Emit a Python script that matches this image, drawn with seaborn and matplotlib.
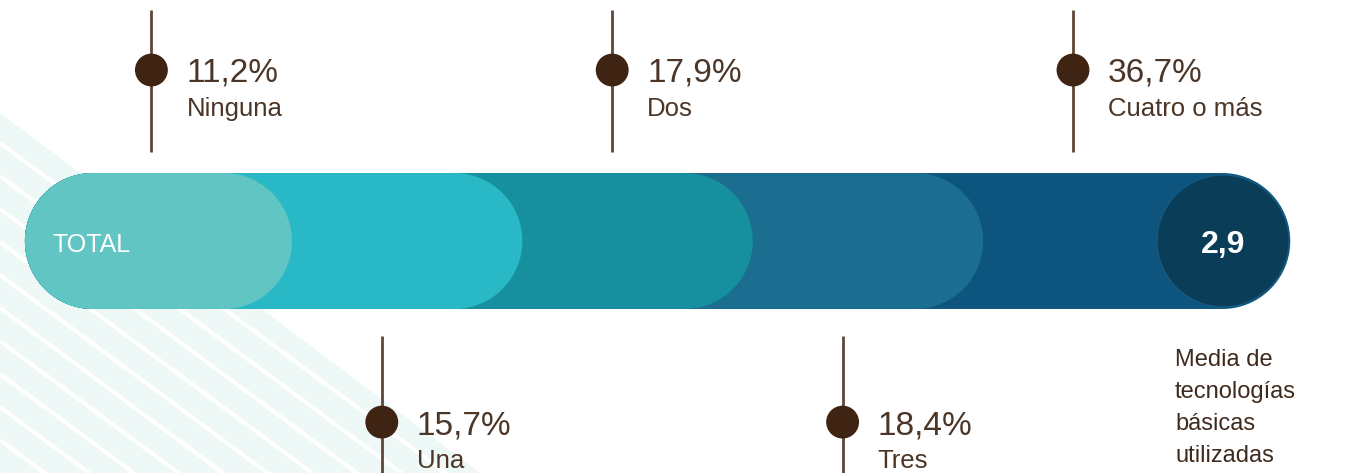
import numpy as np
import pandas as pd
import matplotlib.pyplot as plt
import seaborn as sns
from matplotlib.patches import Circle, Polygon

# DATA
categories = ["Ninguna", "Una", "Dos", "Tres", "Cuatro o más"]
shares = [11.2, 15.7, 17.9, 18.4, 36.7]
mean_value = 2.9
caption_lines = ["Media de", "tecnologías", "básicas", "utilizadas"]
bar_label = "TOTAL"

seg_colors = ["#60c5c3", "#29b8c5", "#16909e", "#1c6e90", "#0d557e"]
mean_color = "#0a3d57"
brown = "#3f2414"
line_brown = "#5e4638"
text_brown = "#4b3527"

df = pd.DataFrame({"cat": categories, "share": shares})
df["slot"] = np.arange(len(df))
df["side"] = np.where(df["slot"] % 2 == 0, "top", "bottom")
df["label"] = df["share"].map(lambda v: f"{v:.1f}%".replace(".", ","))

sns.set_theme(style="white")
plt.rcParams["font.family"] = ["Liberation Sans", "DejaVu Sans"]

# one axis unit = one category slot; equal scale on both axes so caps stay round
unit = 230.4
x0_px, y0_px = 151.4, 241.0
W, H = 1348, 473

def to_data(px, py):
    return (px - x0_px) / unit, (y0_px - py) / unit

def capsule(x_start, x_end, r, **kw):
    # pill shape with true semicircular ends
    t = np.linspace(-np.pi / 2, np.pi / 2, 80)
    right = np.column_stack([x_end - r + r * np.cos(t), r * np.sin(t)])
    left = np.column_stack([x_start + r - r * np.cos(t), -r * np.sin(t)])
    return Polygon(np.vstack([right, left]), closed=True, **kw)

fig = plt.figure(figsize=(W / 100, H / 100), dpi=100)
ax = fig.add_axes([0, 0, 1, 1])

# background stripes (decoration)
region = Polygon([to_data(*p) for p in [(0, 113), (250, 300), (480, 473), (0, 473)]],
                 closed=True, facecolor="#eef8f7", edgecolor="none", zorder=0)
ax.add_patch(region)
slope = 0.74
for b in np.arange(143, 900, 33):
    xs = np.array([0, 700])
    ys = b + slope * xs
    pts = np.array([to_data(x, y) for x, y in zip(xs, ys)])
    ln, = ax.plot(pts[:, 0], pts[:, 1], color="white", lw=3.0, zorder=1,
                  solid_capstyle="butt")
    ln.set_clip_path(region)

# stacked rounded bar
half_h = 0.295
bar_left = -0.549
bar_right = 4.943
ends = list(df["slot"] + 0.61)
ends[-1] = bar_right
for i in reversed(range(len(df))):
    ax.add_patch(capsule(bar_left, ends[i], half_h, facecolor=seg_colors[i],
                         edgecolor="none", zorder=10 - i))

ax.text(-0.431, -0.048, bar_label, color="white", fontsize=18, va="baseline",
        ha="left", zorder=20)

# mean circle
cx = 4.651
ax.add_patch(Circle((cx, 0), 0.2865, facecolor=mean_color, edgecolor="#165a80",
                    lw=1.0, zorder=15))
ax.text(cx, -0.054, f"{mean_value:.1f}".replace(".", ","), color="white",
        fontsize=23, fontweight="bold", ha="center", va="baseline", zorder=20)

for k, line in enumerate(caption_lines):
    ax.text(4.443, (y0_px - (366 + 32 * k)) / unit, line, color="#3f2a1e",
            fontsize=17, ha="left", va="baseline")

# leader lines, markers and labels
top = df[df["side"] == "top"]
bot = df[df["side"] == "bottom"]
ax.vlines(top["slot"], 0.386, 1.003, color=line_brown, lw=2, zorder=3)
ax.vlines(bot["slot"], -1.01, -0.412, color=line_brown, lw=2, zorder=3)

df["marker_y"] = np.where(df["side"] == "top", 0.742, -0.786)
sns.scatterplot(data=df, x="slot", y="marker_y", s=560, color=brown,
                edgecolor="none", legend=False, ax=ax, zorder=5)

for _, r in df.iterrows():
    tx = r["slot"] + 0.152
    if r["side"] == "top":
        yp, yn = 0.694, 0.543
    else:
        yp, yn = -0.838, -0.985
    ax.text(tx, yp, r["label"], color=text_brown, fontsize=24, va="baseline", ha="left")
    ax.text(tx, yn, r["cat"], color=text_brown, fontsize=18.5, va="baseline", ha="left")

ax.set_xlim(-x0_px / unit, (W - x0_px) / unit)
ax.set_ylim(-(H - y0_px) / unit, y0_px / unit)
ax.axis("off")

plt.savefig("out.png", dpi=100)
